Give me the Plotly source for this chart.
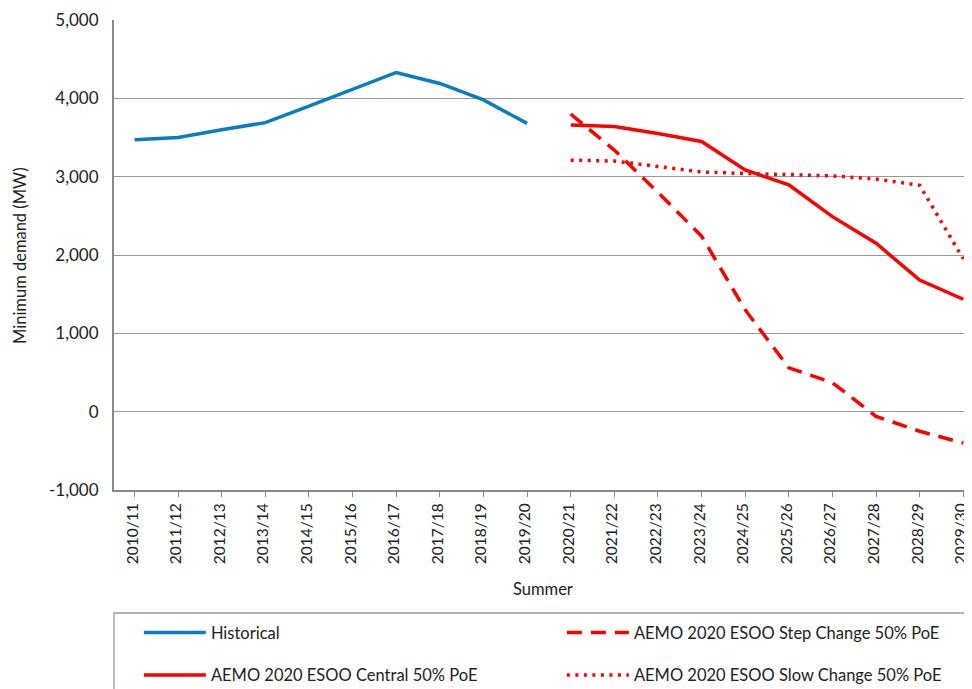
import plotly.graph_objects as go

# 여름 시즌 구분
summers = ['2010/11', '2011/12', '2012/13', '2013/14', '2014/15', '2015/16', '2016/17',
           '2017/18', '2018/19', '2019/20', '2020/21', '2021/22', '2022/23', '2023/24',
           '2024/25', '2025/26', '2026/27', '2027/28', '2028/29', '2029/30']
hist_years = summers[:10]
fcst_years = summers[10:]

historical = [3470, 3500, 3600, 3690, 3900, 4110, 4330, 4190, 3980, 3680]
central = [3660, 3640, 3550, 3450, 3085, 2895, 2490, 2150, 1680, 1435]
step_change = [3800, 3340, 2800, 2240, 1300, 560, 370, -60, -250, -400]
slow_change = [3210, 3200, 3130, 3060, 3040, 3020, 3010, 2970, 2890, 1950]

y_ticks = [-1000, 0, 1000, 2000, 3000, 4000, 5000]
y_labels = ['-1,000', '0', '1,000', '2,000', '3,000', '4,000', '5,000']

BLUE = '#0a7cc2'
RED = '#ff0000'
FONT = 'Lato'

fig = go.Figure()

# 범례는 항목마다 따로 배치 (2열 x 2행)
fig.add_trace(go.Scatter(
    x=hist_years, y=historical, mode='lines', name='Historical',
    line=dict(color=BLUE, width=3.5), legend='legend'
))
fig.add_trace(go.Scatter(
    x=fcst_years, y=step_change, mode='lines', name='AEMO 2020 ESOO Step Change 50% PoE',
    line=dict(color=RED, width=3.5, dash='15px,9px'), legend='legend2'
))
fig.add_trace(go.Scatter(
    x=fcst_years, y=central, mode='lines', name='AEMO 2020 ESOO Central 50% PoE',
    line=dict(color=RED, width=3.5), legend='legend3'
))
fig.add_trace(go.Scatter(
    x=fcst_years, y=slow_change, mode='lines', name='AEMO 2020 ESOO Slow Change 50% PoE',
    line=dict(color=RED, width=3.5, dash='3px,5.5px'), legend='legend4'
))

legend_style = dict(
    orientation='h', xanchor='left', yanchor='middle', itemwidth=62,
    font=dict(family=FONT, size=16.5, color='#222'),
    bgcolor='rgba(0,0,0,0)', itemclick=False
)
col1, col2 = 0.029, 0.522
row1, row2 = -0.304, -0.394

# 브라우저 body 여백(8px)을 감안해 크기/여백 조정
fig.update_layout(
    width=964, height=681,
    margin=dict(l=106, r=0, t=12, b=199, autoexpand=False),
    paper_bgcolor='white', plot_bgcolor='white',
    font=dict(family=FONT, size=16, color='#222'),
    showlegend=True,
    legend=dict(x=col1, y=row1, **legend_style),
    legend2=dict(x=col2, y=row1, **legend_style),
    legend3=dict(x=col1, y=row2, **legend_style),
    legend4=dict(x=col2, y=row2, **legend_style),
    xaxis=dict(
        type='category', range=[-0.47, 19.2], automargin=False,
        tickangle=-90, ticks='outside', ticklen=5, tickcolor='#888',
        showline=True, linecolor='#888', linewidth=2,
        showgrid=False, tickfont=dict(size=15.5), ticklabelshift=-2
    ),
    yaxis=dict(
        range=[-1000, 5000], tickvals=y_ticks, ticktext=y_labels, automargin=False,
        showline=True, linecolor='#888', linewidth=2,
        showgrid=True, gridcolor='#999', gridwidth=1.3,
        zeroline=False, ticks='', tickfont=dict(size=17), ticklabelstandoff=10
    ),
    annotations=[
        dict(text='Summer', xref='paper', yref='paper', x=0.5, y=-0.2106,
             xanchor='center', yanchor='middle', showarrow=False,
             font=dict(family=FONT, size=16.5)),
        dict(text='Minimum demand (MW)', xref='paper', yref='paper', x=-0.1096, y=0.5,
             xanchor='center', yanchor='middle', textangle=-90, showarrow=False,
             font=dict(family=FONT, size=16.5)),
    ],
    shapes=[
        dict(type='rect', xref='paper', yref='paper', x0=0, x1=1.01, y0=-0.2617, y1=-0.45,
             line=dict(color='#999', width=1.3), fillcolor='rgba(0,0,0,0)')
    ]
)

fig.write_html('out.html')
